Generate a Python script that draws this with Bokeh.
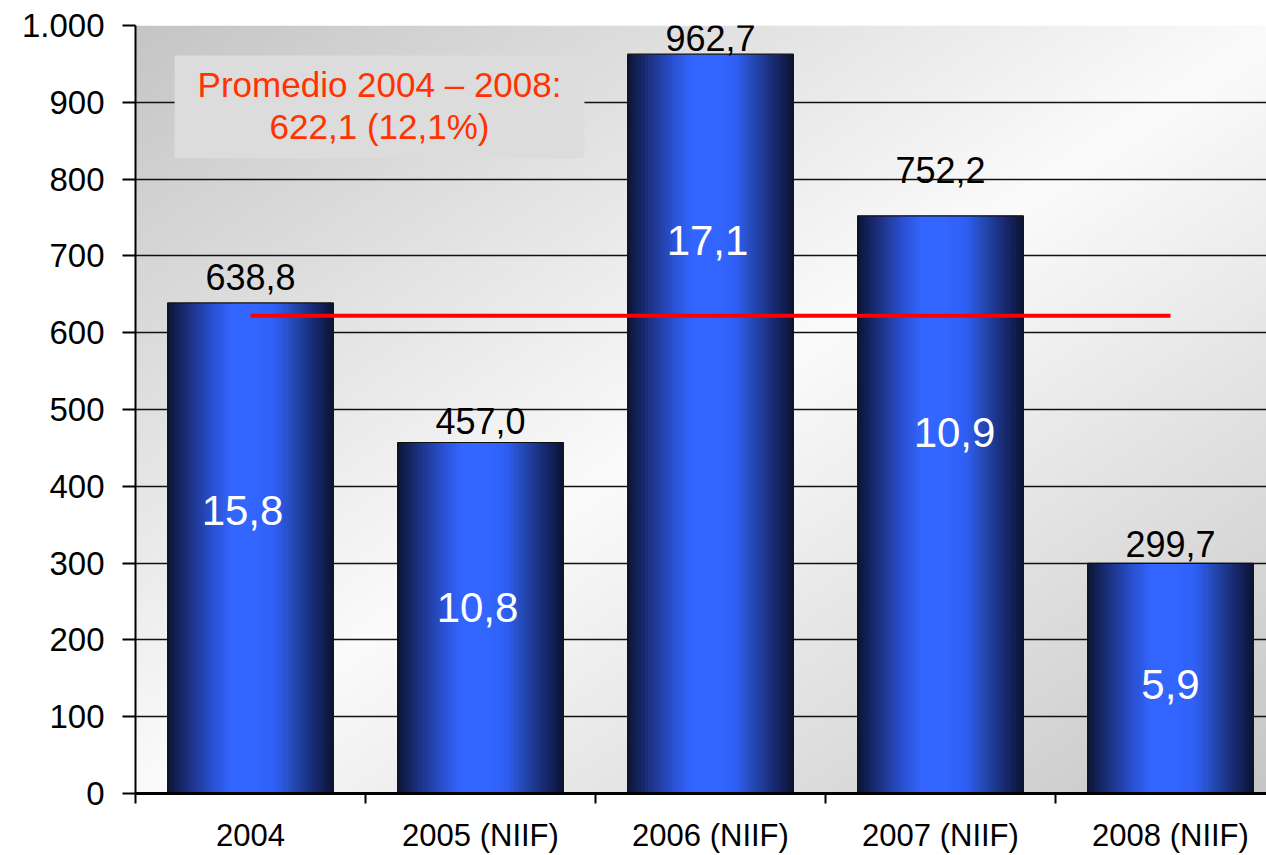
import numpy as np
from bokeh.plotting import figure
from bokeh.models import FixedTicker, Range1d, BoxAnnotation, Label, ColumnDataSource
from bokeh.embed import file_html
from bokeh.resources import INLINE
from bokeh.core.properties import value

# ---------------- data ----------------
categories = ["2004", "2005 (NIIF)", "2006 (NIIF)", "2007 (NIIF)", "2008 (NIIF)"]
values = [638.8, 457.0, 962.7, 752.2, 299.7]
inner_values = [15.8, 10.8, 17.1, 10.9, 5.9]
y_ticks = [0, 100, 200, 300, 400, 500, 600, 700, 800, 900, 1000]
y_tick_labels = ["0", "100", "200", "300", "400", "500", "600", "700", "800", "900", "1.000"]
avg_title = "Promedio 2004 \u2013 2008:"

# ---------------- layout constants ----------------
FONT = "Liberation Sans"
BAR_W = 0.72
CAT_PX = 230.0
FRAME_W = 1266 - 135
inner_label_y = [368, 242, 720, 470, 142]      # vertical placement of the white labels (data units)
inner_label_dx = [-8, -3, -3, 14, 0]           # px horizontal nudge of the white labels
value_label_gap = [26, 22, 16, 46, 19]         # px gap between bar top and value label anchor


def fmt(v):
    return f"{v:.1f}".replace(".", ",")


n = len(categories)
xs = list(range(n))
avg = float(np.mean(values))
avg_pct = float(np.mean(inner_values))

p = figure(width=1266, height=855,
           x_range=Range1d(-0.5, -0.5 + FRAME_W / CAT_PX), y_range=Range1d(0, 1000),
           output_backend="svg", toolbar_location=None,
           min_border_left=135, min_border_right=0, min_border_top=25, min_border_bottom=62,
           background_fill_color="white", border_fill_color="white", outline_line_color=None)

# ---------------- background gradient (diagonal grey-white-grey) ----------------
H, W = 192, 288
yy, xx = np.mgrid[0:H, 0:W]
t = ((xx + 0.5) / W + (H - 1 - yy + 0.5) / H) / 2.0   # 0 top-left -> 1 bottom-right (row 0 = bottom)
g = (251 - 54 * np.abs(2 * t - 1)).astype(np.uint32)
img = (255 << 24) | (g << 16) | (g << 8) | g
p.image_rgba(image=[img.view(np.uint32)], x=-0.5, y=0, dw=5, dh=1000, level="image")

# ---------------- grid & axes ----------------
p.xgrid.visible = False
p.ygrid.ticker = FixedTicker(ticks=y_ticks)
p.ygrid.grid_line_color = "#111111"
p.ygrid.grid_line_width = 1.6

ya = p.yaxis[0]
ya.ticker = FixedTicker(ticks=y_ticks)
ya.major_label_overrides = {k: v for k, v in zip(y_ticks, y_tick_labels)}
ya.major_tick_out = 13
ya.major_tick_in = 0
ya.major_tick_line_width = 2
ya.major_tick_line_color = "black"
ya.minor_tick_line_color = None
ya.axis_line_width = 2
ya.axis_line_color = "black"
ya.major_label_text_font = FONT
ya.major_label_text_font_size = "33px"
ya.major_label_text_color = "black"
ya.major_label_standoff = 18

xa = p.xaxis[0]
xa.ticker = FixedTicker(ticks=xs, minor_ticks=[i - 0.5 for i in range(n + 1)])
xa.major_label_overrides = {i: c for i, c in zip(xs, categories)}
xa.major_tick_line_color = None
xa.major_tick_out = 10
xa.major_tick_in = 0
xa.minor_tick_out = 10
xa.minor_tick_in = 0
xa.minor_tick_line_width = 2
xa.minor_tick_line_color = "black"
xa.axis_line_width = 3
xa.axis_line_color = "black"
xa.major_label_text_font = FONT
xa.major_label_text_font_size = "31px"
xa.major_label_text_color = "black"
xa.major_label_standoff = 14

# ---------------- bars with horizontal cylinder shading ----------------
N = 48
stops = [0.0, 0.12, 0.27, 0.39, 0.55, 0.65, 0.77, 0.89, 1.0]
R = [11, 27, 42, 51, 51, 48, 36, 24, 11]
G = [21, 47, 80, 102, 102, 96, 72, 42, 21]
B = [53, 122, 208, 255, 255, 246, 176, 112, 53]
sx, stop, sw, scol = [], [], [], []
for i, v in enumerate(values):
    for k in range(N):
        f = (k + 0.5) / N
        r = int(np.interp(f, stops, R))
        gg = int(np.interp(f, stops, G))
        b = int(np.interp(f, stops, B))
        sx.append(i - BAR_W / 2 + f * BAR_W)
        stop.append(v)
        sw.append(BAR_W / N * 1.25)
        scol.append(f"#{r:02x}{gg:02x}{b:02x}")
strip_src = ColumnDataSource(dict(x=sx, top=stop, w=sw, c=scol))
p.vbar(x="x", top="top", width="w", bottom=0, source=strip_src,
       fill_color="c", line_color=None)
p.vbar(x=xs, top=values, width=BAR_W, bottom=0, fill_alpha=0,
       line_color="#101010", line_width=1.2)

# ---------------- average line ----------------
p.line(x=[xs[0], xs[-1]], y=[avg, avg], line_color="#ff0000", line_width=4)

# ---------------- labels ----------------
val_src = ColumnDataSource(dict(x=xs, y=values, t=[fmt(v) for v in values],
                                off=[-g_ for g_ in value_label_gap]))
p.text(x="x", y="y", text="t", y_offset="off", source=val_src,
       text_font=value(FONT), text_font_size="36px", text_color="black",
       text_align="center", text_baseline="alphabetic")

in_src = ColumnDataSource(dict(x=xs, y=inner_label_y, dx=inner_label_dx,
                               t=[fmt(v) for v in inner_values]))
p.text(x="x", y="y", text="t", x_offset="dx", source=in_src,
       text_font=value(FONT), text_font_size="42px", text_color="white",
       text_align="center", text_baseline="middle")

# ---------------- average annotation box ----------------
box = BoxAnnotation(left=-0.33, right=1.452, bottom=827, top=961,
                    fill_color="#dcdcdc", fill_alpha=1.0, line_color=None, level="annotation")
p.add_layout(box)
lab1 = Label(x=0.561, y=(793 - 84) / 0.768, text=avg_title,
             text_font=FONT, text_font_size="35px", text_color="#ff3300",
             text_align="center", text_baseline="alphabetic")
lab2 = Label(x=0.561, y=(793 - 126) / 0.768, text=f"{fmt(avg)} ({fmt(avg_pct)}%)",
             text_font=FONT, text_font_size="35px", text_color="#ff3300",
             text_align="center", text_baseline="alphabetic")
p.add_layout(lab1)
p.add_layout(lab2)

open("out.html", "w").write(file_html(p, INLINE))
